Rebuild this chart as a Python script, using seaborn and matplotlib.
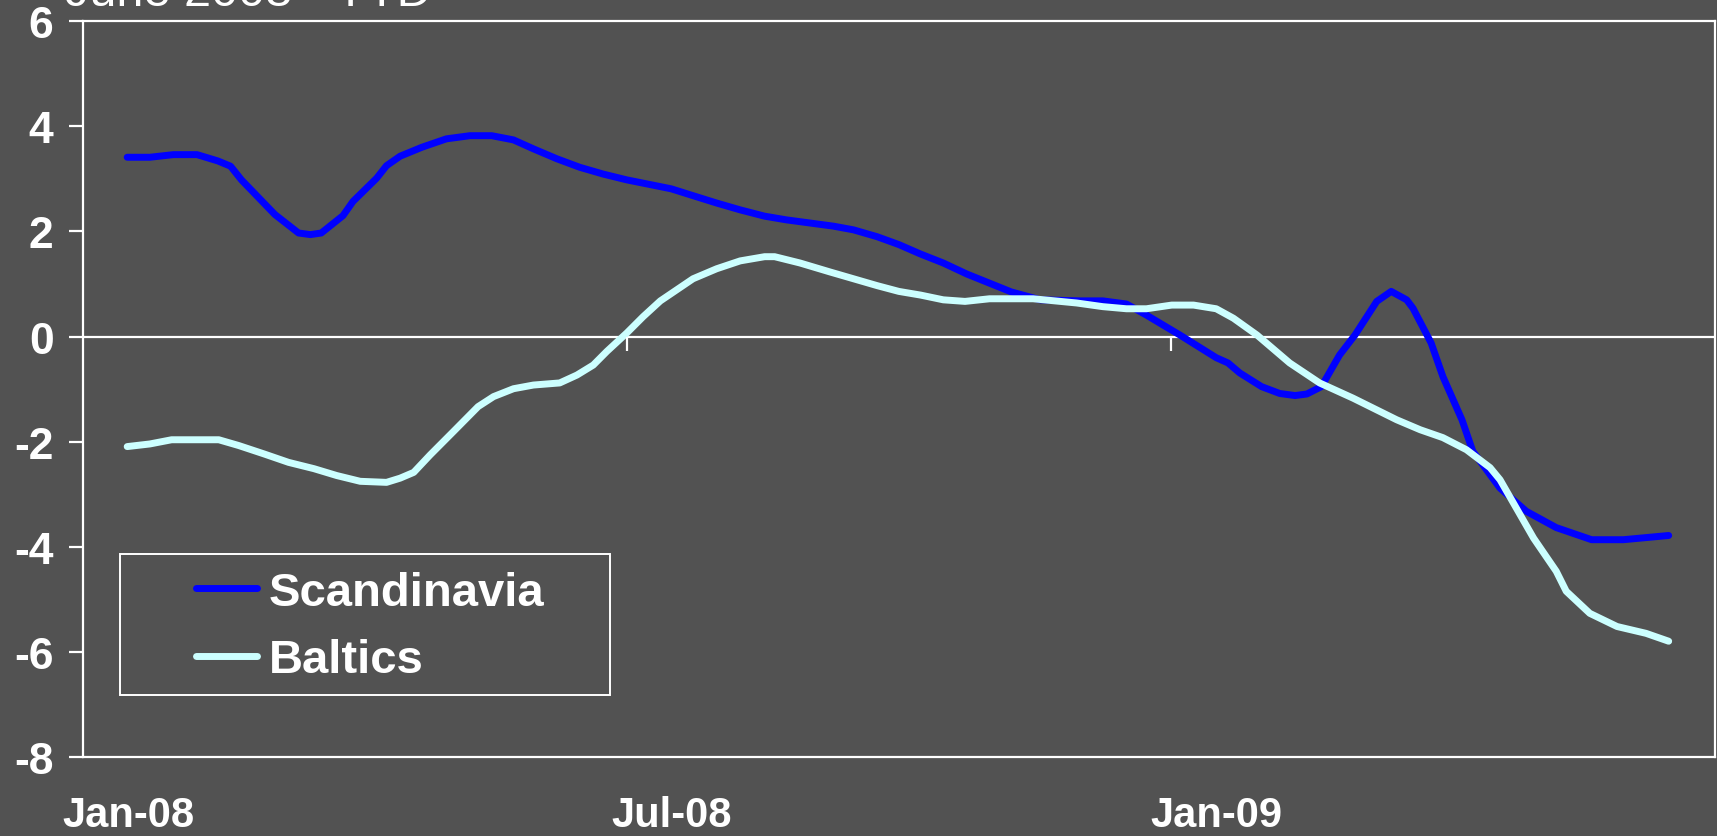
import matplotlib
matplotlib.use("Agg")
import matplotlib.pyplot as plt
from matplotlib.patches import Rectangle
import seaborn as sns
import pandas as pd

# months since start of Jan-08 (0 = 1 Jan 2008)
scan_month = [0.49, 0.74, 1.0, 1.26, 1.49, 1.63, 1.75, 2.12, 2.38, 2.51, 2.63, 2.87, 2.98,
              3.24, 3.35, 3.50, 3.74, 4.01, 4.27, 4.51, 4.75, 4.97, 5.23, 5.48, 5.74, 6.0,
              6.26, 6.49, 6.73, 6.99, 7.25, 7.52, 7.76, 8.02, 8.28, 8.50, 8.76, 9.0, 9.24,
              9.49, 9.75, 10.24, 10.56, 11.0, 11.25, 11.51, 11.73, 12.10, 12.50, 12.63, 12.76,
              13.0, 13.20, 13.37, 13.50, 13.66, 13.86, 14.03, 14.27, 14.43, 14.60, 14.67,
              14.87, 15.0, 15.21, 15.33, 15.63, 15.92, 16.25, 16.64, 16.99, 17.24, 17.49]
scan_vals = [3.41, 3.41, 3.46, 3.46, 3.34, 3.24, 2.98, 2.32, 1.97, 1.94, 1.97, 2.30, 2.57,
             3.01, 3.25, 3.43, 3.60, 3.76, 3.82, 3.82, 3.74, 3.57, 3.38, 3.22, 3.09, 2.98,
             2.89, 2.81, 2.68, 2.54, 2.41, 2.29, 2.22, 2.16, 2.10, 2.03, 1.90, 1.75, 1.57,
             1.40, 1.19, 0.85, 0.70, 0.68, 0.68, 0.62, 0.41, 0.03, -0.40, -0.50, -0.69,
             -0.95, -1.08, -1.12, -1.09, -0.95, -0.35, 0.03, 0.67, 0.86, 0.70, 0.54,
             -0.12, -0.76, -1.58, -2.18, -2.88, -3.32, -3.63, -3.86, -3.86, -3.82, -3.78]

balt_month = [0.49, 0.74, 0.98, 1.26, 1.50, 1.72, 2.0, 2.27, 2.55, 2.80, 3.06, 3.35, 3.50,
              3.65, 3.83, 4.09, 4.36, 4.53, 4.75, 4.97, 5.26, 5.45, 5.63, 5.78, 6.0, 6.18,
              6.37, 6.73, 6.99, 7.25, 7.52, 7.63, 7.91, 8.24, 8.50, 8.76, 9.0, 9.24, 9.49,
              9.73, 10.0, 10.48, 10.96, 11.25, 11.51, 11.73, 12.01, 12.25, 12.50, 12.69,
              12.95, 13.31, 13.64, 14.01, 14.49, 14.75, 15.0, 15.26, 15.52, 15.63, 15.81,
              16.0, 16.25, 16.36, 16.62, 16.92, 17.24, 17.49]
balt_vals = [-2.09, -2.04, -1.96, -1.96, -1.96, -2.07, -2.23, -2.39, -2.51, -2.64, -2.75,
             -2.77, -2.69, -2.58, -2.25, -1.80, -1.33, -1.14, -0.99, -0.92, -0.88, -0.73,
             -0.54, -0.28, 0.07, 0.38, 0.68, 1.10, 1.29, 1.44, 1.52, 1.52, 1.40, 1.23,
             1.10, 0.97, 0.86, 0.79, 0.70, 0.67, 0.72, 0.72, 0.64, 0.57, 0.53, 0.53, 0.60,
             0.60, 0.53, 0.35, 0.03, -0.50, -0.88, -1.17, -1.58, -1.77, -1.92, -2.15,
             -2.49, -2.72, -3.26, -3.83, -4.46, -4.84, -5.26, -5.51, -5.64, -5.79]

month_labels = ["Jan-08", "Jul-08", "Jan-09"]
label_months = [0.5, 6.5, 12.5]
tick_months = [6, 12]
title = "June 2008 - YTD"

bg = "#525252"
blue = "#0000FF"
cyan = "#CCFFFF"
lw = 5

sns.set_style("dark")
plt.rcParams["font.family"] = ["Liberation Sans", "DejaVu Sans"]
plt.rcParams["axes.unicode_minus"] = False

df = pd.concat([
    pd.DataFrame({"month": scan_month, "value": scan_vals, "region": "Scandinavia"}),
    pd.DataFrame({"month": balt_month, "value": balt_vals, "region": "Baltics"}),
])

fig = plt.figure(figsize=(17.17, 8.37), dpi=100, facecolor=bg)
ax = fig.add_axes([0.0482, 0.0938, 0.9506, 0.8799])
ax.set_facecolor(bg)

sns.lineplot(data=df, x="month", y="value", hue="region", sort=False, estimator=None,
             palette={"Scandinavia": blue, "Baltics": cyan}, ax=ax, legend=False)
for line in ax.get_lines():
    line.set_linewidth(lw)
    line.set_solid_capstyle("round")
    line.set_solid_joinstyle("round")

ax.axhline(0, color="white", linewidth=1.6, zorder=1)
ax.vlines(tick_months, -0.28, 0, color="white", linewidth=1.6)

ax.set_xlim(0, 18)
ax.set_ylim(-8, 6)
ax.set_yticks(range(-8, 7, 2))
ax.set_yticklabels([str(v) for v in range(-8, 7, 2)], fontsize=32, fontweight="bold", color="white")
ax.tick_params(axis="y", length=10, width=1.6, color="white", pad=11, left=True)
ax.set_xticks(label_months)
ax.set_xticklabels(month_labels, fontsize=30, fontweight="bold", color="white")
ax.tick_params(axis="x", length=0, pad=27)
ax.set_xlabel("")
ax.set_ylabel("")
ax.grid(False)
for s in ax.spines.values():
    s.set_visible(True)
    s.set_color("white")
    s.set_linewidth(1.6)

# legend with its own box
ax.add_patch(Rectangle((0.0229, 0.085), 0.3001, 0.1915, transform=ax.transAxes,
                       facecolor="none", edgecolor="white", linewidth=1.4, zorder=5))
handles = [plt.Line2D([], [], color=blue, linewidth=lw, solid_capstyle="round"),
           plt.Line2D([], [], color=cyan, linewidth=lw, solid_capstyle="round")]
leg = ax.legend(handles, ["Scandinavia", "Baltics"], loc="center", bbox_to_anchor=(0.176, 0.178),
                frameon=False, handlelength=1.3, handletextpad=0.25, labelspacing=0.5,
                prop={"size": 34, "weight": "bold"})
for t in leg.get_texts():
    t.set_color("white")

fig.text(0.038, 0.993, title, fontsize=35, color="white", va="baseline", ha="left")

fig.savefig("out.png", dpi=100, facecolor=bg)
